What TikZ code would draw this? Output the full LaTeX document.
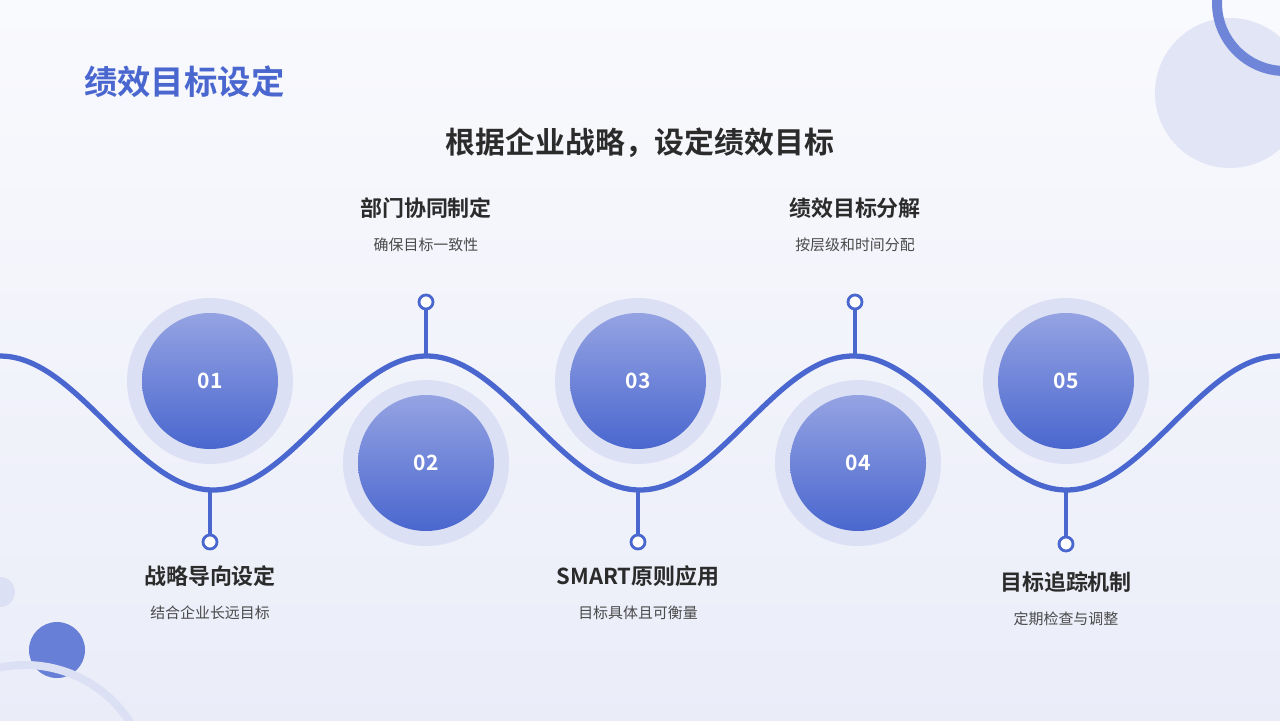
\documentclass[tikz,border=0pt]{standalone}
\usepackage{fontspec}
\setmainfont{Noto Sans CJK SC}[BoldFont={Noto Sans CJK SC Bold}]
\usetikzlibrary{positioning}
\definecolor{accent}{HTML}{4A67CF}
\definecolor{accentlt}{HTML}{95A3E2}
\definecolor{halo}{HTML}{DCE0F4}
\definecolor{darktext}{HTML}{2B2B2B}
\definecolor{greytext}{HTML}{4A4A4A}
\tikzset
{
    stepdisc/.style = {circle, minimum size=136*0.02cm, top color=accentlt, bottom color=accent, text=white, font=\bfseries\fontsize{12}{14}\selectfont},
    halodisc/.style = {circle, minimum size=166*0.02cm, fill=halo},
    pin/.style      = {circle, draw=accent, line width=1.6pt, fill=white, minimum size=14*0.02cm, inner sep=0pt},
    steptitle/.style= {text=darktext, font=\bfseries\fontsize{12.5}{15}\selectfont},
    stepnote/.style = {text=greytext, font=\fontsize{8.5}{10}\selectfont}
}
\begin{document}
\begin{tikzpicture}[x=0.02cm, y=-0.02cm]
    \useasboundingbox (0,0) rectangle (1280,720);
    \shade[top color=white!60!halo!40, bottom color=halo!60] (0,0) rectangle (1280,720);
    % decorations
    \fill[halo!85] (1230,93) circle (75);
    \draw[line width=10*0.02cm, accent!80] (1285,3) circle (68);
    \fill[accent!60!accentlt] (57,650) circle (28);
    \draw[line width=8*0.02cm, halo] (25,790) circle (125);
    \fill[halo] (0,592) circle (15);
    % titles
    \node[text=accent, font=\bfseries\fontsize{19}{22}\selectfont, anchor=west] (title) at (78,82) {绩效目标设定};
    \node[text=darktext, font=\bfseries\fontsize{17}{20}\selectfont] (header) at (640,143) {根据企业战略，设定绩效目标};
    % wave
    \draw[accent, line width=3pt, domain=0:1280, samples=200, smooth] plot (\x, {423-67*cos(0.8439*\x)});
    % top stems
    \foreach \name/\xx in {b/426, d/855}
    {
        \node[pin] (pin\name) at (\xx,302) {};
        \draw[accent, line width=2.5pt] (pin\name.south) -- (\xx,356);
    }
    % bottom stems
    \foreach \name/\xx/\yy in {a/210/542, c/638/542, e/1066/544}
    {
        \node[pin] (pin\name) at (\xx,\yy) {};
        \draw[accent, line width=2.5pt] (pin\name.north) -- (\xx,490);
    }
    % discs
    \foreach \name/\xx/\yy/\num in {a/210/381/01, b/426/463/02, c/638/381/03, d/858/463/04, e/1066/381/05}
    {
        \node[halodisc] at (\xx,\yy) {};
        \node[stepdisc] (disc\name) at (\xx,\yy) {\num};
    }
    % labels
    \node[steptitle] (ta) at (210,576) {战略导向设定};
    \node[stepnote, below=4pt of ta] (na) {结合企业长远目标};
    \node[steptitle] (tb) at (426,208) {部门协同制定};
    \node[stepnote, below=4pt of tb] (nb) {确保目标一致性};
    \node[steptitle] (tc) at (638,576) {SMART原则应用};
    \node[stepnote, below=4pt of tc] (nc) {目标具体且可衡量};
    \node[steptitle] (td) at (855,208) {绩效目标分解};
    \node[stepnote, below=4pt of td] (nd) {按层级和时间分配};
    \node[steptitle] (te) at (1066,582) {目标追踪机制};
    \node[stepnote, below=4pt of te] (ne) {定期检查与调整};
\end{tikzpicture}
\end{document}
